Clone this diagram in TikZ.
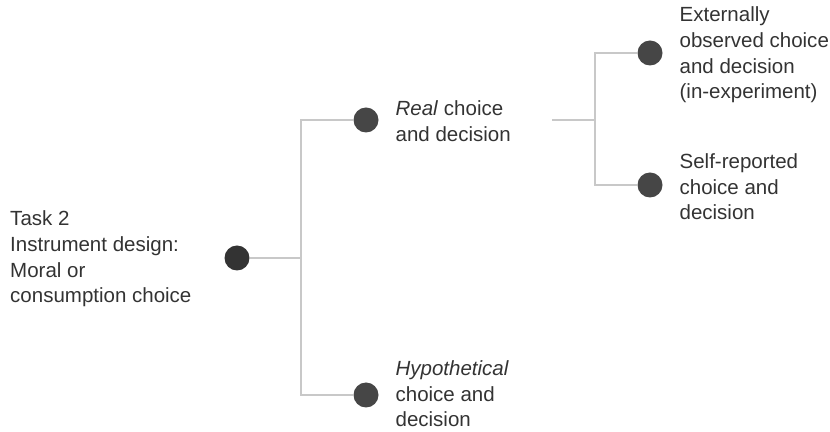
\documentclass[tikz,border=0pt]{standalone}
\usepackage{fontspec}
\setmainfont{Liberation Sans}
\usepackage{xcolor}
\usepackage{tikz}
\usetikzlibrary{positioning}

\definecolor{rootgray}{HTML}{333333}
\definecolor{dotgray}{HTML}{464646}
\definecolor{linegray}{HTML}{C8C8C8}
\definecolor{textgray}{HTML}{333333}

\tikzset{
  dot/.style={circle,fill=#1,minimum size=0.75cm,inner sep=0pt},
  dot/.default=dotgray,
  branch/.style={linegray,line width=1.3pt},
  lbl/.style={anchor=west,align=left,text=textgray,inner sep=0pt,
    font=\fontsize{17.5}{21.8}\selectfont}
}

\begin{document}
\begin{tikzpicture}[x=0.03cm,y=-0.03cm]
	\useasboundingbox (0,0) rectangle (830,432);
	% dots
	\node[dot=rootgray] (root) at (237,258) {};
	\node[dot] (real) at (366,120) {};
	\node[dot] (hypo) at (366,395) {};
	\node[dot] (ext) at (650,53) {};
	\node[dot] (self) at (650,185) {};
	% labels
	\node[lbl] (tasktext) at (10,259) {Task 2\\Instrument design:\\Moral or\\consumption choice};
	\node[lbl,right=0.5cm of real,yshift=-0.03cm] (realtext) {\textit{Real} choice\\and decision};
	\node[lbl,right=0.5cm of hypo,yshift=0.03cm] (hypotext) {\textit{Hypothetical}\\choice and\\decision};
	\node[lbl,right=0.5cm of ext,yshift=-0.06cm] (exttext) {Externally\\observed choice\\and decision\\(in-experiment)};
	\node[lbl,right=0.5cm of self,yshift=-0.06cm] (selftext) {Self-reported\\choice and\\decision};
	% tree lines
	\coordinate (fork1) at (301,258);
	\coordinate (stub) at (552,120);
	\coordinate (fork2) at (595,120);
	\draw[branch] (root) -- (fork1) |- (real);
	\draw[branch] (fork1) |- (hypo);
	\draw[branch] (stub) -- (fork2) |- (ext);
	\draw[branch] (fork2) |- (self);
\end{tikzpicture}
\end{document}
